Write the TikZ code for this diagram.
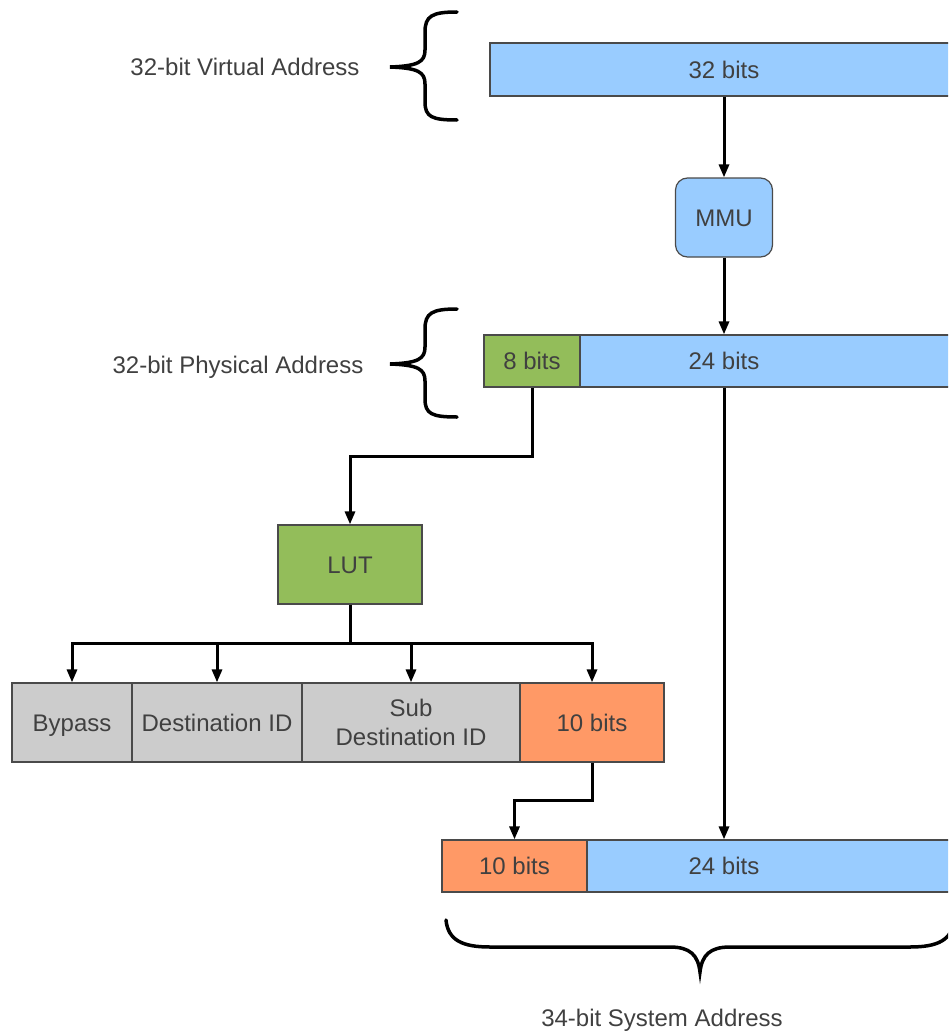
\documentclass[tikz,border=0pt]{standalone}
\usepackage{fontspec}
\setmainfont{Liberation Sans}
\usetikzlibrary{arrows.meta}
\definecolor{txt}{HTML}{404040}
\definecolor{edge}{HTML}{4A4A4A}
\definecolor{bluef}{HTML}{99CCFF}
\definecolor{greenf}{HTML}{93BD5A}
\definecolor{orangef}{HTML}{FF9966}
\definecolor{grayf}{HTML}{CCCCCC}
\tikzset{
  field/.style={draw=edge, line width=1.2pt, inner sep=0pt, text=txt,
    font=\fontsize{24}{29}\selectfont, align=center},
  oneline/.style={text height=19.5pt, text depth=2.5pt},
  caption/.style={text=txt, font=\fontsize{24}{29}\selectfont, inner sep=0pt},
  arr/.style={draw=black, line width=3pt, -{Triangle[length=13pt,width=10pt]}},
  brace/.style={draw=black, line width=3.5pt, line cap=round}
}
\begin{document}
\begin{tikzpicture}[x=1pt,y=-1pt]
\useasboundingbox (0,0) rectangle (948,1033);
\clip (0,0) rectangle (948,1033);

% virtual address
\node[field, oneline, fill=bluef, minimum width=468pt, minimum height=53pt] (va) at (724,69.5) {32 bits};
\node[field, oneline, fill=bluef, rounded corners=12pt, minimum width=97pt, minimum height=79pt] (mmu) at (724,217.5) {MMU};

% physical address
\node[field, oneline, fill=bluef, minimum width=480pt, minimum height=52pt] (pa) at (724,361) {24 bits};
\node[field, oneline, fill=greenf, minimum width=96pt, minimum height=52pt] (eight) at (532,361) {8 bits};

% lookup table
\node[field, oneline, fill=greenf, minimum width=144pt, minimum height=79pt] (lut) at (350,564.5) {LUT};

% LUT entry fields
\node[field, oneline, fill=grayf, minimum width=120pt, minimum height=79pt] (bypass) at (72,722.5) {Bypass};
\node[field, oneline, fill=grayf, minimum width=170pt, minimum height=79pt] (dest) at (217,722.5) {Destination ID};
\node[field, fill=grayf, minimum width=218pt, minimum height=79pt] (sub) at (411,722.5) {Sub\\Destination ID};
\node[field, oneline, fill=orangef, minimum width=144pt, minimum height=79pt] (ten) at (592,722.5) {10 bits};

% system address
\node[field, oneline, fill=bluef, minimum width=564pt, minimum height=52pt] (sa) at (724,866) {24 bits};
\node[field, oneline, fill=orangef, minimum width=145pt, minimum height=52pt] (tenb) at (514.5,866) {10 bits};

% captions
\node[caption] (vacap) at (245,67) {32-bit Virtual Address};
\node[caption] (pacap) at (238,367) {32-bit Physical Address};
\node[caption] (sacap) at (662,1020) {34-bit System Address};

% routing points
\coordinate (j1) at (532,456);
\coordinate (split) at (350,643);
\coordinate (j2) at (592,800);

% connectors
\draw[arr] (va.south) -- (mmu.north);
\draw[arr] (mmu.south) -- (pa.north);
\draw[arr] (eight.south) -- (j1) -| (lut.north);
\draw[line width=3pt] (lut.south) -- (split);
\draw[arr] (split) -| (bypass.north);
\draw[arr] (split) -| (dest.north);
\draw[arr] (split) -| (sub.north);
\draw[arr] (split) -| (ten.north);
\draw[arr] (ten.south) -- (j2) -| (tenb.north);
\draw[arr] (pa.south) -- (sa.north);

% braces
\draw[brace] (457,12) .. controls (432,12) and (425,16) .. (425,32) -- (425,50)
  .. controls (425,62) and (418,66) .. (390,67)
  .. controls (418,68) and (425,72) .. (425,84) -- (425,102)
  .. controls (425,117) and (432,120) .. (457,120);
\draw[brace] (457,309) .. controls (432,309) and (425,313) .. (425,329) -- (425,347)
  .. controls (425,359) and (418,363) .. (390,364)
  .. controls (418,365) and (425,369) .. (425,381) -- (425,399)
  .. controls (425,414) and (432,417) .. (457,417);
\draw[brace] (446,920) .. controls (448,940) and (462,947) .. (490,947) -- (670,947)
  .. controls (690,947) and (698,955) .. (700,972)
  .. controls (702,955) and (710,947) .. (730,947) -- (910,947)
  .. controls (938,947) and (952,940) .. (954,920);
\end{tikzpicture}
\end{document}
